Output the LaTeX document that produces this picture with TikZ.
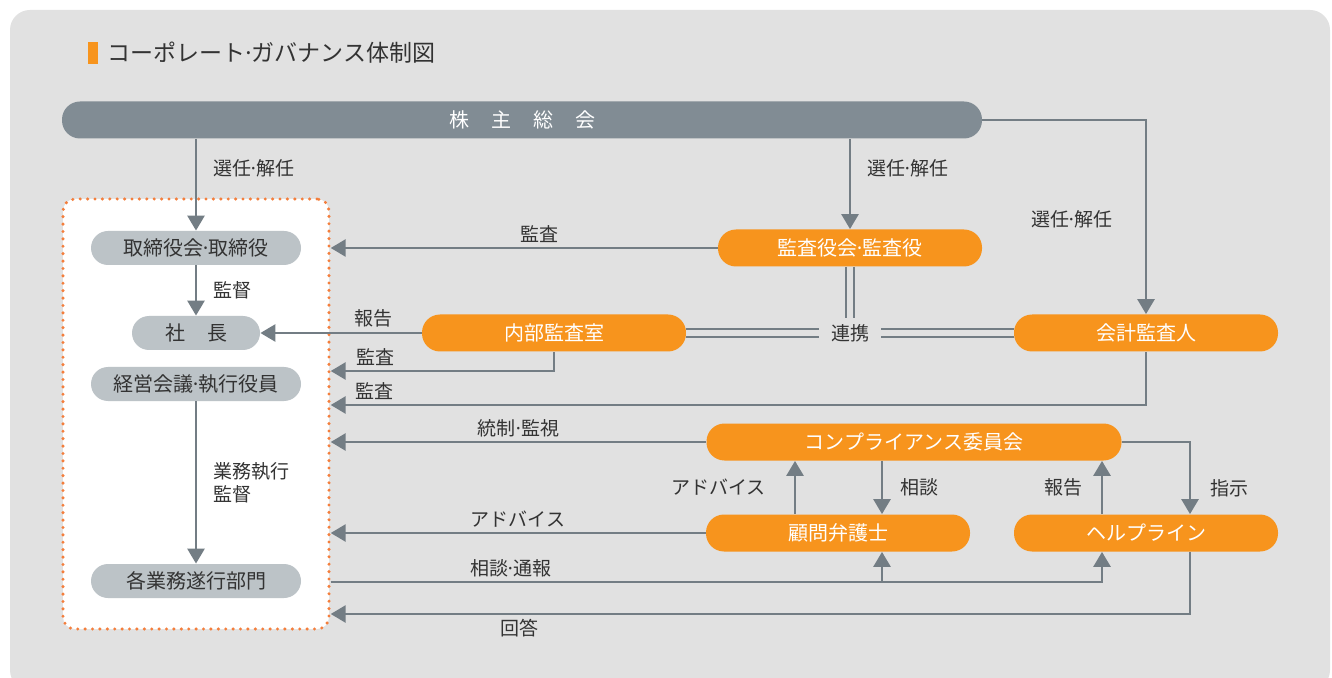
\documentclass[tikz,border=0pt]{standalone}
\usepackage{fontspec}
\setmainfont{Noto Sans CJK JP}
\usetikzlibrary{arrows.meta}
\definecolor{panel}{HTML}{E1E1E1}
\definecolor{barc}{HTML}{818C94}
\definecolor{org}{HTML}{F7941D}
\definecolor{pale}{HTML}{BCC3C7}
\definecolor{lnc}{HTML}{737D84}
\definecolor{txt}{HTML}{333333}
\definecolor{dotc}{HTML}{F47E3C}
\newcommand\md{\kern-0.14em·\kern-0.14em}

\tikzset{
  pill/.style={rounded corners=9pt, minimum height=18.5pt, inner sep=0pt, font=\fontsize{10}{11}\selectfont},
  onode/.style={pill, fill=org, text=white, minimum width=132pt},
  gnode/.style={pill, fill=pale, text=txt, minimum height=17pt, rounded corners=8.5pt, minimum width=105pt},
  dotbox/.style={draw=dotc, fill=white, line width=1.7pt, dash pattern=on 0pt off 3.7pt, line cap=round, rounded corners=6pt, minimum width=133pt, minimum height=215pt, inner sep=0pt},
  arr/.style={draw=lnc, line width=1.35pt, -{Triangle[length=7.5pt,width=8.5pt]}},
  dbl/.style={draw=lnc, line width=1.3pt, double=panel, double distance=2.6pt},
  lbl/.style={text=txt, font=\fontsize{9.5}{11.5}\selectfont, inner sep=2pt},
}

\begin{document}
\begin{tikzpicture}[x=0.5pt,y=-0.5pt]
\useasboundingbox (0,0) rectangle (1332,678);
\fill[white] (0,0) rectangle (1332,678);
\begin{scope}
\clip (0,0) rectangle (1332,678);
\fill[panel, rounded corners=10pt] (10,10) rectangle (1330,690);
\end{scope}

% title
\fill[org] (88,42) rectangle (98,64);
\node[anchor=west, text=txt, font=\fontsize{11.5}{13}\selectfont, inner sep=0pt] (title) at (107,53) {コーポレート\md ガバナンス体制図};

% nodes
\node[dotbox] (box) at (196,414) {};
\node[pill, fill=barc, text=white, minimum width=460pt] (sh) at (522,120) {株\hspace{11pt}主\hspace{11pt}総\hspace{11pt}会};
\node[gnode] (tb) at (196,248) {取締役会\md 取締役};
\node[gnode, minimum width=64pt] (ceo) at (196,333) {社\hspace{11pt}長};
\node[gnode] (kei) at (196,384) {経営会議\md 執行役員};
\node[gnode] (bu) at (196,581) {各業務遂行部門};
\node[onode] (ka) at (850,248) {監査役会\md 監査役};
\node[onode] (nb) at (554,333) {内部監査室};
\node[onode] (kk) at (1146,333) {会計監査人};
\node[onode, minimum width=207.5pt] (cp) at (914,442) {コンプライアンス委員会};
\node[onode] (bg) at (838,533) {顧問弁護士};
\node[onode] (hl) at (1146,533) {ヘルプライン};

\coordinate (r1) at (0,371);
\coordinate (r2) at (0,405);
\coordinate (r3) at (0,582);
\coordinate (r4) at (0,614);
\coordinate (a1) at ([xshift=-21.5pt]bg.north);
\coordinate (a2) at ([xshift=22pt]bg.north);
\coordinate (b1) at ([xshift=22pt]bg.south);
\coordinate (h1) at ([xshift=-22pt]hl.south);
\coordinate (h2) at ([xshift=-22pt]hl.north);
\coordinate (h3) at ([xshift=22pt]hl.north);
\coordinate (h4) at ([xshift=22pt]hl.south);

% connectors
\draw[arr] (sh.south -| tb.north) -- node[lbl, right=6pt, pos=0.32] {選任\md 解任} (tb.north);
\draw[arr] (sh.south -| ka.north) -- node[lbl, right=6pt, pos=0.33] {選任\md 解任} (ka.north);
\draw[arr] (sh.east) -| node[lbl, left=14pt, pos=0.756] {選任\md 解任} (kk.north);
\draw[arr] (tb.south) -- node[lbl, right=6pt] {監督} (ceo.north);
\draw[arr] (kei.south) -- node[lbl, right=6pt, align=left] {業務執行\\監督} (bu.north);

\draw[arr] (ka.west) -- node[lbl, above, pos=0.46] {監査} (ka.west -| box.east);
\draw[arr] (nb.west) -- node[lbl, above, pos=0.3] {報告} (ceo.east);
\draw[arr] (nb.south) |- node[lbl, above, pos=0.9] {監査} (box.east |- r1);
\draw[arr] (kk.south) |- node[lbl, above, pos=0.973] {監査} (box.east |- r2);
\draw[arr] (cp.west) -- node[lbl, above] {統制\md 監視} (cp.west -| box.east);
\draw[arr] (bg.west) -- node[lbl, above] {アドバイス} (bg.west -| box.east);

\draw[arr] (a1) -- node[lbl, left=12pt] {アドバイス} (a1 |- cp.south);
\draw[arr] (a2 |- cp.south) -- node[lbl, right=6.5pt] {相談} (a2);
\draw[arr] (h2) -- node[lbl, left=7pt] {報告} (h2 |- cp.south);
\draw[arr] (cp.east) -| node[lbl, right=7.5pt, pos=0.82] {指示} (h3);

\draw[arr] (box.east |- r3) -| node[lbl, above, pos=0.117] {相談\md 通報} (h1);
\draw[arr] (b1 |- r3) -- (b1);
\draw[arr] (h4) |- node[lbl, below, pos=0.89] {回答} (box.east |- r4);

% 連携
\draw[dbl] (ka.south) -- (ka.south |- nb.east);
\draw[dbl] (nb.east) -- (kk.west);
\node[lbl, fill=panel, inner xsep=6pt, inner ysep=3pt] (rk) at (ka.south |- nb.east) {連携};
\end{tikzpicture}
\end{document}
